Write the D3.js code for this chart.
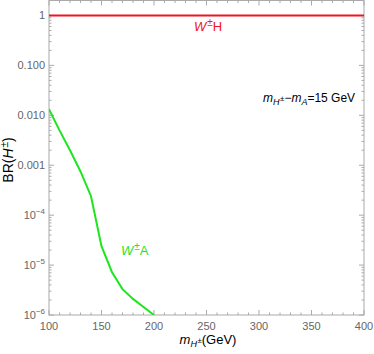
<!DOCTYPE html>
<html lang="en">
<head>
<meta charset="utf-8">
<title>BR(H±)</title>
<script src="https://d3js.org/d3.v7.min.js"></script>
<style>
  body { margin: 0; background: #fff; }
  text { font-family: "Liberation Sans", Arial, sans-serif; }
</style>
</head>
<body>
<div id="stage"></div>
<script>
// data
var massWH = [100, 400];
var brWH = [1, 1];
var massWA = [100, 110, 120, 130, 140, 150, 160, 170, 180, 190, 200];
var brWA = [0.0132, 0.0050, 0.0020, 0.00075, 0.00024, 0.000024, 0.0000072, 0.0000033, 0.0000021, 0.00000145, 0.000001];
var xTicks = [100, 150, 200, 250, 300, 350, 400];
var yTicks = [1, 0.1, 0.01, 0.001, 1e-4, 1e-5, 1e-6];
var yTickText = ["1", "0.100", "0.010", "0.001", "10|-4", "10|-5", "10|-6"];

var W = 374, H = 354;
var pL = 49, pR = 364, pT = 0.5, pB = 315;

var svg = d3.select("#stage").append("svg").attr("width", W).attr("height", H);

var x = d3.scaleLinear().domain([100, 400]).range([pL, pR]);
var y = d3.scaleLog().domain([1e-6, Math.pow(10, 15 / 50)]).range([pB, pT]);

var frameCol = "#aaa";
var tickCol = "#666";

// frame
svg.append("rect").attr("x", pL).attr("y", pT).attr("width", pR - pL).attr("height", pB - pT)
  .attr("fill", "none").attr("stroke", frameCol).attr("stroke-width", 1);

// x ticks (inward, bottom and top)
var xMinor = d3.range(100, 401, 10);
xMinor.forEach(function (v) {
  var major = xTicks.indexOf(v) >= 0;
  var len = major ? 5 : 2.5;
  svg.append("line").attr("x1", x(v)).attr("x2", x(v)).attr("y1", pB).attr("y2", pB - len).attr("stroke", frameCol);
  svg.append("line").attr("x1", x(v)).attr("x2", x(v)).attr("y1", pT).attr("y2", pT + len).attr("stroke", frameCol);
});
svg.selectAll(".xl").data(xTicks).enter().append("text")
  .attr("x", function (d) { return x(d); }).attr("y", pB + 15)
  .attr("text-anchor", "middle").attr("font-size", 11).attr("fill", tickCol)
  .text(function (d) { return d; });

// y ticks (inward, left and right)
for (var e = -6; e <= 0; e++) {
  for (var m = 1; m <= 9; m++) {
    var v = m * Math.pow(10, e);
    if (v > y.domain()[1]) continue;
    var len = m == 1 ? 5 : 2.5;
    svg.append("line").attr("x1", pL).attr("x2", pL + len).attr("y1", y(v)).attr("y2", y(v)).attr("stroke", frameCol);
    svg.append("line").attr("x1", pR).attr("x2", pR - len).attr("y1", y(v)).attr("y2", y(v)).attr("stroke", frameCol);
  }
}
yTicks.forEach(function (v, i) {
  var t = svg.append("text").attr("x", pL - 4).attr("y", y(v) + 4)
    .attr("text-anchor", "end").attr("font-size", 11).attr("fill", tickCol);
  var s = yTickText[i];
  if (s.indexOf("|") >= 0) {
    var p = s.split("|");
    t.append("tspan").text(p[0]);
    t.append("tspan").attr("dy", -5).attr("font-size", 8).text("\u2212" + p[1].slice(1));
  } else {
    t.text(s);
  }
});

// clip
svg.append("clipPath").attr("id", "clip").append("rect")
  .attr("x", pL).attr("y", pT).attr("width", pR - pL).attr("height", pB - pT);

var line = d3.line().x(function (d) { return x(d[0]); }).y(function (d) { return y(d[1]); });

svg.append("path").datum(d3.zip(massWH, brWH)).attr("d", line)
  .attr("fill", "none").attr("stroke", "#f0141e").attr("stroke-width", 1.8).attr("clip-path", "url(#clip)");
svg.append("path").datum(d3.zip(massWA, brWA)).attr("d", line)
  .attr("fill", "none").attr("stroke", "#1ee61e").attr("stroke-width", 2).attr("clip-path", "url(#clip)");

// curve labels
function wLabel(px, py, col, letter) {
  var t = svg.append("text").attr("x", px).attr("y", py).attr("font-size", 13).attr("fill", col);
  t.append("tspan").attr("font-style", "italic").text("W");
  t.append("tspan").attr("dx", 1).attr("dy", -5).attr("font-size", 10).text("\u00b1");
  t.append("tspan").attr("dy", 5).text(letter);
}
wLabel(194, 31, "#f0141e", "H");
wLabel(121, 255, "#1ee61e", "A");

// annotation
var an = svg.append("text").attr("x", 263).attr("y", 102).attr("font-size", 12).attr("fill", "#000");
an.append("tspan").attr("font-style", "italic").text("m");
an.append("tspan").attr("dy", 3).attr("font-size", 9).attr("font-style", "italic").text("H");
an.append("tspan").attr("dx", 0.5).attr("dy", -4).attr("font-size", 8).text("\u00b1");
an.append("tspan").attr("dy", 1).text("\u2212");
an.append("tspan").attr("font-style", "italic").text("m");
an.append("tspan").attr("dy", 3).attr("font-size", 9).attr("font-style", "italic").text("A");
an.append("tspan").attr("dy", -3).text("=15 GeV");

// axis labels
var xl = svg.append("text").attr("x", 208).attr("y", 344).attr("text-anchor", "middle").attr("font-size", 13).attr("fill", "#000");
xl.append("tspan").attr("font-style", "italic").text("m");
xl.append("tspan").attr("dy", 3).attr("font-size", 9).attr("font-style", "italic").text("H");
xl.append("tspan").attr("dx", 0.5).attr("dy", -4).attr("font-size", 8).text("\u00b1");
xl.append("tspan").attr("dy", 1).text("(GeV)");

var yl = svg.append("text").attr("transform", "translate(13,160) rotate(-90)")
  .attr("text-anchor", "middle").attr("font-size", 14).attr("fill", "#000");
yl.append("tspan").text("BR(");
yl.append("tspan").attr("font-style", "italic").text("H");
yl.append("tspan").attr("dx", 1).attr("dy", -5).attr("font-size", 10).text("\u00b1");
yl.append("tspan").attr("dy", 5).text(")");
</script>
</body>
</html>
